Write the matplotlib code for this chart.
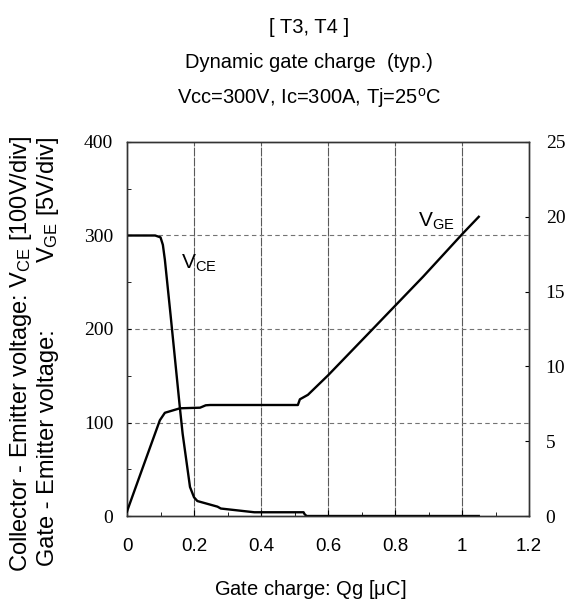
import numpy as np
import matplotlib.pyplot as plt

plt.rcParams['font.family'] = ['Liberation Sans', 'DejaVu Sans']
plt.rcParams['mathtext.fontset'] = 'custom'
plt.rcParams['mathtext.rm'] = 'Liberation Sans'

# Collector-emitter voltage [V] vs gate charge [uC]
q_vce = [0, 0.084, 0.10, 0.107, 0.113, 0.13, 0.158, 0.166, 0.188, 0.20, 0.21,
         0.27, 0.28, 0.38, 0.527, 0.53, 0.536, 1.05]
vce = [300, 300, 298, 290, 274, 215, 115, 88, 31, 20, 16, 10, 8, 4, 4, 2, 0, 0]

# Gate-emitter voltage [V] vs gate charge [uC]
q_vge = [0, 0.003, 0.048, 0.098, 0.113, 0.158, 0.218, 0.235, 0.248, 0.51,
         0.516, 0.54, 0.60, 0.725, 0.884, 1.003, 1.05]
vge = [0.3, 0.5, 3.3, 6.4, 6.9, 7.2, 7.24, 7.4, 7.42, 7.42,
       7.8, 8.1, 9.4, 12.3, 16.0, 18.9, 20.0]

xticks = [0, 0.2, 0.4, 0.6, 0.8, 1, 1.2]
xticklabels = ['0', '0.2', '0.4', '0.6', '0.8', '1', '1.2']
left_ticks = [0, 100, 200, 300, 400]
right_ticks = [0, 5, 10, 15, 20, 25]

fig = plt.figure(figsize=(5.74, 6.05), dpi=100)
ax = fig.add_axes([0.2213, 0.1471, 0.7003, 0.6182])
ax2 = ax.twinx()

ax.set_xlim(0, 1.2)
ax.set_ylim(0, 400)
ax2.set_ylim(0, 25)

# grid: darker verticals, lighter dotted horizontals
for xv in xticks[1:-1]:
    ax.axvline(xv, color='0.35', lw=0.8, ls=(0, (8, 1)), zorder=1)
for yv in left_ticks[1:-1]:
    ax.axhline(yv, color='0.45', lw=0.8, ls=(0, (4, 3)), zorder=1)

ax.plot(q_vce, vce, color='black', lw=1.7, zorder=3)
ax2.plot(q_vge, vge, color='black', lw=1.7, zorder=3)

ax.set_xticks(xticks)
ax.set_xticklabels(xticklabels, fontsize=13.5)
ax.set_xticks(np.arange(0.1, 1.2, 0.2), minor=True)
ax.set_yticks(left_ticks)
ax.set_yticklabels([str(v) for v in left_ticks], fontsize=14,
                   fontfamily='Liberation Serif')
ax.set_yticks([50, 150, 250, 350], minor=True)
ax2.set_yticks(right_ticks)
ax2.set_yticklabels([str(v) for v in right_ticks], fontsize=14,
                    fontfamily='Liberation Serif')

ax.tick_params(axis='x', which='major', direction='in', length=4, pad=16)
ax.tick_params(axis='x', which='minor', direction='in', length=3)
ax.tick_params(axis='y', which='both', direction='in', length=3, pad=10)
ax2.tick_params(axis='y', direction='in', length=3, pad=12)

for a in (ax, ax2):
    for s in a.spines.values():
        s.set_color('0.2')
        s.set_linewidth(1.0)

ax.text(0.16, 264, r'$\mathregular{V_{CE}}$', fontsize=15, ha='left', va='baseline')
ax.text(0.868, 309, r'$\mathregular{V_{GE}}$', fontsize=15, ha='left', va='baseline')

# titles
fig.text(0.538, 0.954, '[ T3, T4 ]', fontsize=14.5, ha='center', va='center')
fig.text(0.538, 0.896, 'Dynamic gate charge  (typ.)', fontsize=14.5, ha='center', va='center')
fig.text(0.538, 0.838, r'Vcc=300V, Ic=300A, Tj=25$\mathregular{^o}$C', fontsize=14.5,
         ha='center', va='center')

fig.text(0.54, 0.025, r'Gate charge: Qg [$\mathregular{\mu}$C]', fontsize=14.5,
         ha='center', va='center')

# left axis label, two rotated lines
fig.text(0.036, 1 - 572 / 605, r'Collector - Emitter voltage: $\mathregular{V_{CE}}$ [100V/div]',
         fontsize=17, rotation=90, ha='center', va='bottom')
fig.text(0.084, 1 - 566 / 605, 'Gate - Emitter voltage:',
         fontsize=17, rotation=90, ha='center', va='bottom')
fig.text(0.084, 1 - 137 / 605, r'$\mathregular{V_{GE}}$ [5V/div]',
         fontsize=17, rotation=90, ha='center', va='top')

fig.savefig('out.png', dpi=100)
